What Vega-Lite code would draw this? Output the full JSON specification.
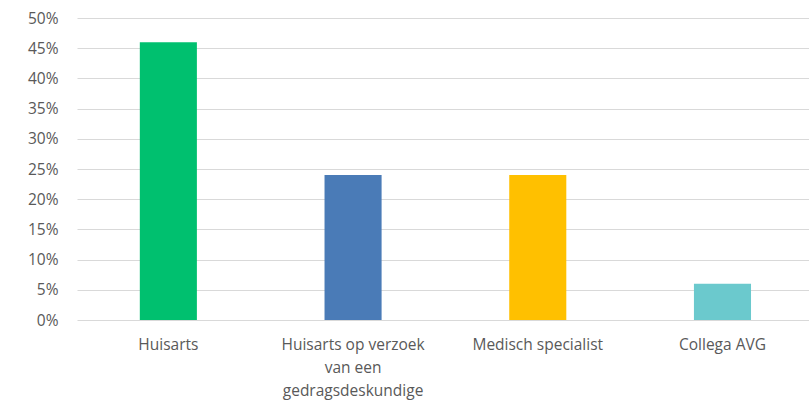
{
  "$schema": "https://vega.github.io/schema/vega-lite/v6.json",
  "autosize": "none",
  "width": 732,
  "height": 302,
  "padding": {"left": 77, "top": 18, "right": 0, "bottom": 87},
  "background": "white",
  "config": {"view": {"stroke": null}, "font": "Open Sans"},
  "data": {"values": [
    {"cat": "Huisarts", "value": 0.46},
    {"cat": "Huisarts op verzoek van een gedragsdeskundige", "value": 0.24},
    {"cat": "Medisch specialist", "value": 0.24},
    {"cat": "Collega AVG", "value": 0.06}
  ]},
  "mark": {"type": "bar"},
  "encoding": {
    "x": {"field": "cat", "type": "nominal", "sort": null,
      "scale": {"paddingInner": 0.691, "paddingOuter": 0.327, "align": 0.52},
      "axis": {"title": null, "labelAngle": 0, "ticks": false, "domain": false, "labelOverlap": false,
        "labelFontSize": 15.5, "labelColor": "#595959", "labelPadding": 17, "labelLineHeight": 23,
        "labelExpr": "datum.label == 'Huisarts op verzoek van een gedragsdeskundige' ? ['Huisarts op verzoek','van een','gedragsdeskundige'] : datum.label"}},
    "y": {"field": "value", "type": "quantitative",
      "scale": {"domain": [0, 0.5]},
      "axis": {"title": null, "format": ".0%", "values": [0,0.05,0.1,0.15,0.2,0.25,0.3,0.35,0.4,0.45,0.5],
        "labelOverlap": false,
        "domain": false, "ticks": false, "labelFontSize": 15.5, "labelColor": "#595959", "labelPadding": 19,
        "gridColor": "#d9d9d9", "gridWidth": 1}},
    "color": {"field": "cat", "type": "nominal", "legend": null,
      "scale": {"domain": ["Huisarts", "Huisarts op verzoek van een gedragsdeskundige", "Medisch specialist", "Collega AVG"],
        "range": ["#00C06F", "#4A7BB7", "#FFC000", "#6BC9CD"]}}
  }
}
